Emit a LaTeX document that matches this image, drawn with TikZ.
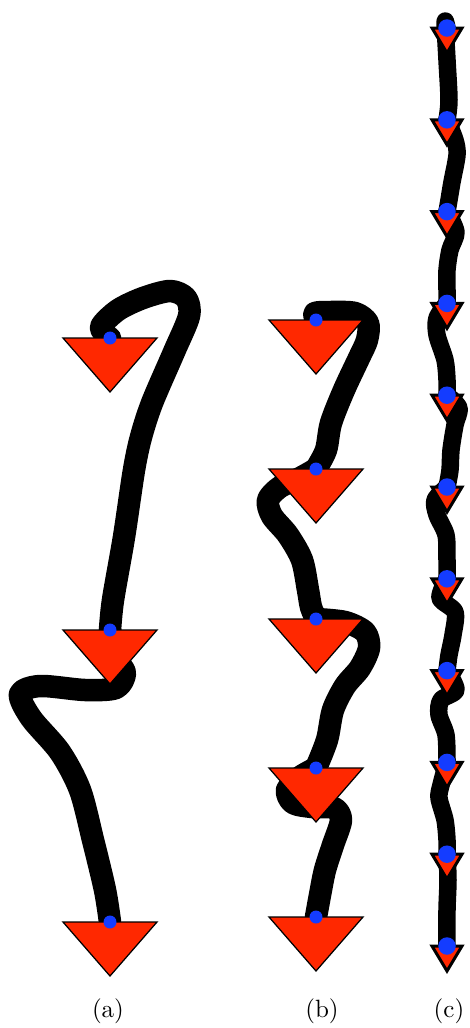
\documentclass[tikz,border=0pt]{standalone}
\definecolor{massred}{RGB}{255, 40, 0}
\definecolor{dotblue}{RGB}{20, 60, 255}
\usepackage{tikz}
\tikzstyle{rope} = [
    draw=black,
    line width=9pt,
    line cap=round,
    line join=round
]
\tikzstyle{thinrope} = [
    rope,
    line width=7pt
]
\tikzstyle{mass} = [
    fill=massred,
    draw=black,
    line width=0.5pt
]
\tikzstyle{smallmass} = [
    mass,
    line width=1.2pt
]
\tikzstyle{dot} = [
    circle,
    fill=dotblue,
    inner sep=0pt,
    minimum size=5.2pt
]
\tikzstyle{bigdot} = [
    dot,
    minimum size=7pt
]
\tikzstyle{sublabel} = [
    anchor=base,
    inner sep=0pt
]

\begin{document}
\begin{tikzpicture}[x=0.4pt, y=-0.4pt]
    \useasboundingbox (0,0) rectangle (470,1028);

    % Pendulum (a): three masses
    \coordinate (a1) at (110,338);
    \coordinate (a2) at (110,630);
    \coordinate (a3) at (110,922);
    \draw[rope] plot[smooth] coordinates {(a1) (101,327) (118,310) (143,298) (170,291) (186,298) (189,316) (174,352) (152,403) (141,437) (134,470) (124,537) (113,600) (a2)};
    \draw[rope] plot[smooth] coordinates {(a2) (116,658) (125,673) (116,688) (85,690) (40,686) (20,694) (31,718) (60,752) (80,790) (93,840) (105,890) (a3)};

    % Pendulum (b): five masses
    \coordinate (b1) at (316,320);
    \coordinate (b2) at (316,469);
    \coordinate (b3) at (316,619);
    \coordinate (b4) at (316,768);
    \coordinate (b5) at (316,917);
    \draw[rope] plot[smooth] coordinates {(b1) (315,313) (330,312) (355,313) (368,323) (367,340) (359,358) (344,390) (331,423) (326,450) (b2)};
    \draw[rope] plot[smooth] coordinates {(b2) (300,478) (280,487) (268,500) (272,516) (288,535) (302,560) (308,590) (311,607) (b3)};
    \draw[rope] plot[smooth] coordinates {(b3) (345,622) (365,632) (369,648) (360,668) (345,686) (333,710) (327,740) (b4)};
    \draw[rope] plot[smooth] coordinates {(b4) (300,777) (287,790) (293,803) (312,807) (334,808) (341,820) (333,845) (325,870) (320,895) (b5)};

    % Pendulum (c): eleven masses
    \foreach \i in {1,...,11} {
        \coordinate (c\i) at (447,{28+91.8*(\i-1)});
    }
    \draw[thinrope] plot[smooth] coordinates {(c1) (445,22) (447,60) (449,100) (c2)};
    \draw[thinrope] plot[smooth] coordinates {(c2) (455,140) (457,155) (452,182) (449,200) (c3)};
    \draw[thinrope] plot[smooth] coordinates {(c3) (456,232) (450,250) (447,270) (447,290) (c4)};
    \draw[thinrope] plot[smooth] coordinates {(c4) (437,318) (437,335) (445,360) (447,380) (c5)};
    \draw[thinrope] plot[smooth] coordinates {(c5) (459,408) (455,425) (451,450) (450,470) (c6)};
    \draw[thinrope] plot[smooth] coordinates {(c6) (435,500) (437,515) (446,535) (447,560) (c7)};
    \draw[thinrope] plot[smooth] coordinates {(c7) (440,598) (455,612) (453,635) (449,655) (c8)};
    \draw[thinrope] plot[smooth] coordinates {(c8) (456,690) (441,700) (439,715) (446,735) (c9)};
    \draw[thinrope] plot[smooth] coordinates {(c9) (441,785) (439,798) (445,820) (447,840) (c10)};
    \draw[thinrope] plot[smooth] coordinates {(c10) (448,880) (447,910) (c11)};

    % Masses
    \foreach \m in {a1,a2,a3,b1,b2,b3,b4,b5} {
        \draw[mass] (\m) ++(-47,0) -- ++(94,0) -- ++(-47,54) -- cycle;
        \node[dot] (d\m) at (\m) {};
    }
    \foreach \i in {1,...,11} {
        \draw[smallmass] (c\i) ++(-15,0) -- ++(30,0) -- ++(-15,25) -- cycle;
        \node[bigdot] (dc\i) at (c\i) {};
    }

    % Labels
    \node[sublabel] (lbla) at (108,1017) {(a)};
    \node[sublabel] (lblb) at (322,1017) {(b)};
    \node[sublabel] (lblc) at (449,1017) {(c)};
\end{tikzpicture}
\end{document}
